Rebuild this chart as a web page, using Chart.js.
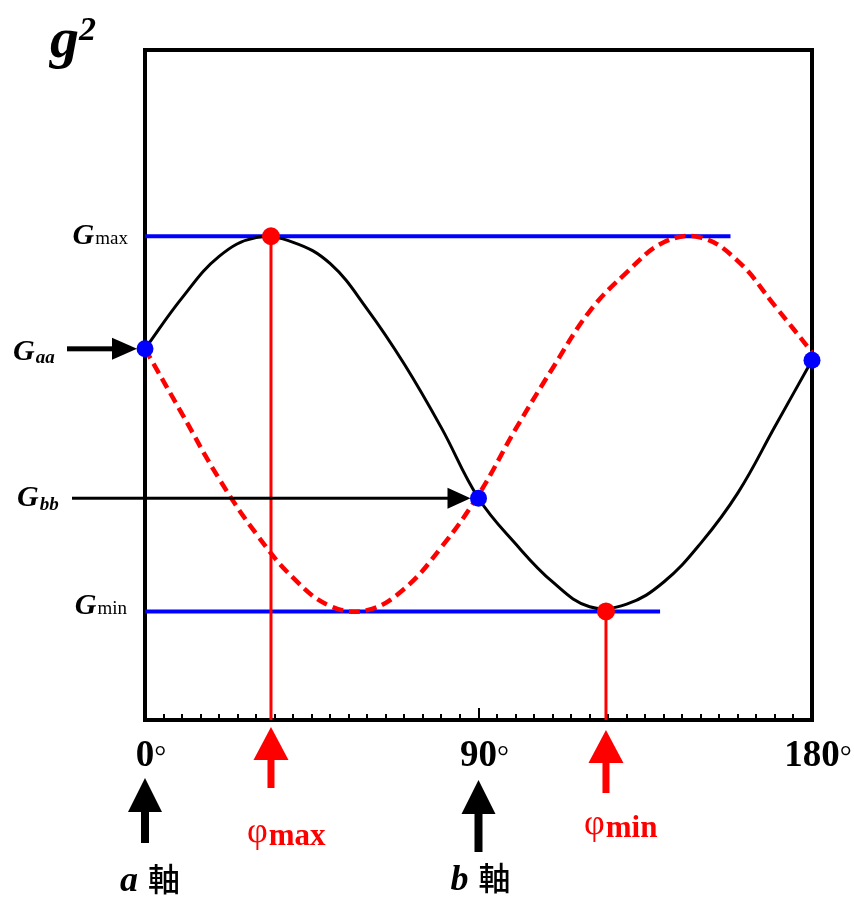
<!DOCTYPE html>
<html lang="ja">
<head>
<meta charset="utf-8">
<title>g² の回転角依存性</title>
<script src="https://cdn.jsdelivr.net/npm/chart.js@4"></script>
<style>
  html, body { margin: 0; padding: 0; background: #fff; }
  canvas { display: block; }
</style>
</head>
<body>
<canvas id="gChart" width="854" height="898"></canvas>
<script>
// 回転角 φ (度) と g² (実線: 黒)
const blackAngles = [0, 10, 20, 30, 40, 50, 60, 70, 80, 90, 100, 110, 120, 130, 140, 150, 160, 170, 180];
const blackValues = [55.4, 63.0, 69.2, 72.0, 71.3, 68.1, 61.3, 53.1, 43.6, 33.1, 26.3, 20.6, 16.9, 17.3, 20.6, 26.4, 33.9, 43.8, 53.7];

// 逆回り (破線: 赤)
const redAngles = [0, 10, 20, 30, 40, 50, 60, 70, 80, 90, 100, 110, 120, 130, 140, 150, 160, 170, 180];
const redValues = [55.4, 45.7, 36.0, 27.8, 21.2, 17.0, 16.4, 19.6, 25.8, 33.6, 43.4, 52.5, 61.0, 66.8, 71.3, 72.0, 68.5, 61.8, 54.9];

// 主値と特徴的な角度
const gMax = 72.2;
const gMin = 16.2;
const gAa = 55.4;
const gBb = 33.1;
const gEnd = 53.7;
const phiMax = 34;
const phiMin = 124.4;
const gMaxLineEnd = 158;
const gMinLineEnd = 139;

// 横軸の目盛り
const tickValues = [0, 90, 180];
const tickLabels = ['0', '90', '180'];
const minorStep = 5;

const SERIF = '"Liberation Serif", "Times New Roman", serif';
const CJK = '"Noto Sans CJK JP", sans-serif';

const toPoints = (xs, ys) => xs.map((x, i) => ({ x: x, y: ys[i] }));

// 文字列をいくつかのフォントでつなげて描く
function drawParts(ctx, x, y, parts) {
  let cx = x;
  parts.forEach((p) => {
    ctx.font = p.font;
    ctx.fillStyle = p.color || '#000';
    ctx.fillText(p.text, cx, y + (p.dy || 0));
    cx += ctx.measureText(p.text).width + (p.gap || 0);
  });
  return cx;
}

function partsWidth(ctx, parts) {
  let w = 0;
  parts.forEach((p) => {
    ctx.font = p.font;
    w += ctx.measureText(p.text).width + (p.gap || 0);
  });
  return w;
}

function arrowUp(ctx, x, tipY, baseY, tailY, headW, shaftW, color) {
  ctx.fillStyle = color;
  ctx.fillRect(x - shaftW / 2, baseY - 1, shaftW, tailY - baseY + 1);
  ctx.beginPath();
  ctx.moveTo(x, tipY);
  ctx.lineTo(x - headW / 2, baseY);
  ctx.lineTo(x + headW / 2, baseY);
  ctx.closePath();
  ctx.fill();
}

function arrowRight(ctx, tipX, y, startX, headL, headH, shaftW, color) {
  ctx.fillStyle = color;
  ctx.fillRect(startX, y - shaftW / 2, tipX - headL - startX + 1, shaftW);
  ctx.beginPath();
  ctx.moveTo(tipX, y);
  ctx.lineTo(tipX - headL, y - headH / 2);
  ctx.lineTo(tipX - headL, y + headH / 2);
  ctx.closePath();
  ctx.fill();
}

// 枠・目盛り・矢印・ラベル
const overlay = {
  id: 'overlay',
  beforeDatasetsDraw(chart) {
    const { ctx, chartArea: a, scales } = chart;
    const xs = scales.x;
    ctx.save();
    ctx.strokeStyle = '#000';
    ctx.lineWidth = 4;
    ctx.strokeRect(a.left, a.top, a.right - a.left, a.bottom - a.top);

    ctx.lineWidth = 2;
    for (let v = minorStep; v <= 180; v += minorStep) {
      const px = Math.round(xs.getPixelForValue(v));
      const len = tickValues.includes(v) ? 12 : 6;
      ctx.beginPath();
      ctx.moveTo(px, a.bottom);
      ctx.lineTo(px, a.bottom - len);
      ctx.stroke();
    }
    ctx.restore();
  },
  afterDatasetsDraw(chart) {
    const { ctx, chartArea: a, scales } = chart;
    const xs = scales.x;
    const ys = scales.y;
    ctx.save();
    ctx.textBaseline = 'alphabetic';
    ctx.textAlign = 'left';

    // 縦軸のタイトル
    drawParts(ctx, 50, 57, [
      { text: 'g', font: `bold italic 58px ${SERIF}` },
      { text: '2', font: `bold italic 34px ${SERIF}`, dy: -17 }
    ]);

    // Gmax, Gmin
    const gMaxParts = [
      { text: 'G', font: `bold italic 30px ${SERIF}`, gap: 1 },
      { text: 'max', font: `19px ${SERIF}` }
    ];
    drawParts(ctx, a.left - 17 - partsWidth(ctx, gMaxParts), ys.getPixelForValue(gMax) + 8, gMaxParts);
    const gMinParts = [
      { text: 'G', font: `bold italic 30px ${SERIF}`, gap: 1 },
      { text: 'min', font: `19px ${SERIF}` }
    ];
    drawParts(ctx, a.left - 18 - partsWidth(ctx, gMinParts), ys.getPixelForValue(gMin) + 3, gMinParts);

    // Gaa, Gbb と矢印
    const yAa = ys.getPixelForValue(gAa);
    drawParts(ctx, 13, yAa + 11, [
      { text: 'G', font: `bold italic 30px ${SERIF}`, gap: 1 },
      { text: 'aa', font: `bold italic 19px ${SERIF}`, dy: 3 }
    ]);
    arrowRight(ctx, xs.getPixelForValue(0) - 8, yAa, 67, 25, 22, 5, '#000');

    const yBb = ys.getPixelForValue(gBb);
    drawParts(ctx, 17, yBb + 8, [
      { text: 'G', font: `bold italic 30px ${SERIF}`, gap: 1 },
      { text: 'bb', font: `bold italic 19px ${SERIF}`, dy: 4 }
    ]);
    arrowRight(ctx, xs.getPixelForValue(90) - 8, yBb, 72, 23, 21, 3, '#000');

    // 横軸の数字
    tickValues.forEach((v, i) => {
      const px = xs.getPixelForValue(v);
      ctx.font = `bold 37px ${SERIF}`;
      const w = ctx.measureText(tickLabels[i]).width;
      drawParts(ctx, px - w / 2, 766, [
        { text: tickLabels[i], font: `bold 37px ${SERIF}` },
        { text: '°', font: `30px ${SERIF}` }
      ]);
    });

    // a 軸, b 軸 の矢印
    const xA = xs.getPixelForValue(0);
    const xB = xs.getPixelForValue(90);
    arrowUp(ctx, xA, 778, 812, 843, 34, 8, '#000');
    arrowUp(ctx, xB, 780, 814, 852, 34, 8, '#000');
    drawParts(ctx, xA - 25, 891, [
      { text: 'a', font: `bold italic 36px ${SERIF}`, gap: 10 },
      { text: '軸', font: `500 32px ${CJK}` }
    ]);
    drawParts(ctx, xB - 28, 890, [
      { text: 'b', font: `bold italic 36px ${SERIF}`, gap: 10 },
      { text: '軸', font: `500 32px ${CJK}` }
    ]);

    // φmax, φmin
    const xMax = xs.getPixelForValue(phiMax);
    const xMin = xs.getPixelForValue(phiMin);
    arrowUp(ctx, xMax, 727, 760, 788, 35, 7, '#ff0000');
    arrowUp(ctx, xMin, 730, 763, 793, 35, 7, '#ff0000');
    drawParts(ctx, xMax - 24, 842, [
      { text: 'φ', font: `36px ${SERIF}`, color: '#ff0000', gap: 1 },
      { text: 'max', font: `bold 31px ${SERIF}`, color: '#ff0000', dy: 3 }
    ]);
    drawParts(ctx, xMin - 22, 834, [
      { text: 'φ', font: `36px ${SERIF}`, color: '#ff0000', gap: 1 },
      { text: 'min', font: `bold 31px ${SERIF}`, color: '#ff0000', dy: 3 }
    ]);

    ctx.restore();
  }
};

new Chart(document.getElementById('gChart'), {
  type: 'line',
  data: {
    datasets: [
      {
        // 主値の点 (赤)
        data: toPoints([phiMax, phiMin], [gMax, gMin]),
        showLine: false,
        pointRadius: 9,
        pointBorderWidth: 0,
        pointBackgroundColor: '#ff0000',
        clip: false,
        order: 0
      },
      {
        // Gaa, Gbb の点 (青)
        data: toPoints([0, 90, 180], [gAa, gBb, gEnd]),
        showLine: false,
        pointRadius: 8.5,
        pointBorderWidth: 0,
        pointBackgroundColor: '#0000ff',
        clip: false,
        order: 1
      },
      {
        data: toPoints(blackAngles, blackValues),
        borderColor: '#000',
        borderWidth: 3,
        tension: 0.4,
        pointRadius: 0,
        clip: false,
        order: 2
      },
      {
        data: toPoints(redAngles, redValues),
        borderColor: '#ff0000',
        borderWidth: 4.5,
        borderDash: [11, 6],
        tension: 0.4,
        pointRadius: 0,
        clip: false,
        order: 3
      },
      {
        // φmax, φmin からの垂線
        data: toPoints([phiMax, phiMax], [gMax, 0]),
        borderColor: '#ff0000',
        borderWidth: 3,
        pointRadius: 0,
        clip: false,
        order: 4
      },
      {
        data: toPoints([phiMin, phiMin], [gMin, 0]),
        borderColor: '#ff0000',
        borderWidth: 3,
        pointRadius: 0,
        clip: false,
        order: 5
      },
      {
        // Gmax, Gmin の水平線
        data: toPoints([0, gMaxLineEnd], [gMax, gMax]),
        borderColor: '#0000ff',
        borderWidth: 4,
        pointRadius: 0,
        clip: false,
        order: 6
      },
      {
        data: toPoints([0, gMinLineEnd], [gMin, gMin]),
        borderColor: '#0000ff',
        borderWidth: 4,
        pointRadius: 0,
        clip: false,
        order: 7
      }
    ]
  },
  options: {
    responsive: false,
    animation: false,
    layout: { padding: { left: 145, right: 42, top: 50, bottom: 178 } },
    scales: {
      x: { type: 'linear', min: 0, max: 180, display: false },
      y: { type: 'linear', min: 0, max: 100, display: false }
    },
    plugins: {
      legend: { display: false },
      tooltip: { enabled: false }
    }
  },
  plugins: [overlay]
});
</script>
</body>
</html>
